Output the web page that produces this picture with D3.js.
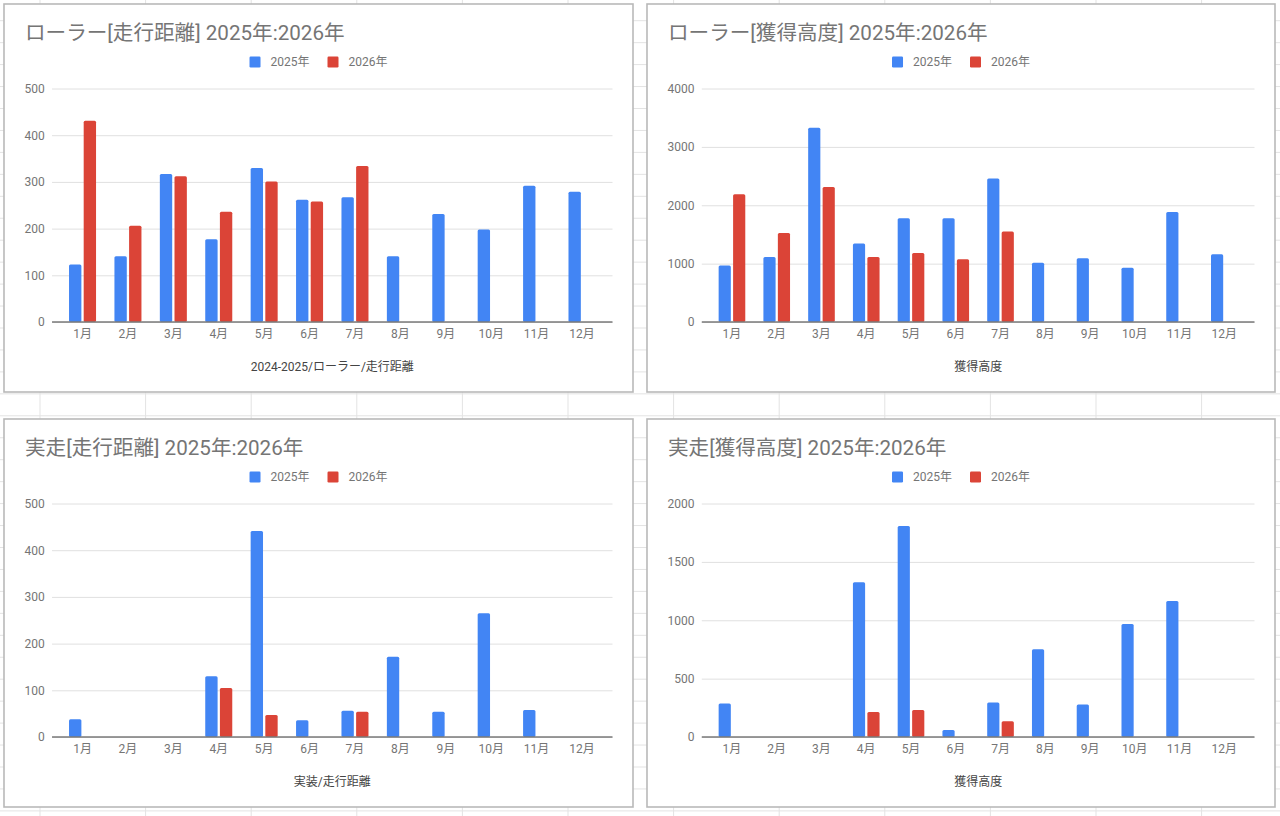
<!DOCTYPE html>
<html>
<head>
<meta charset="utf-8">
<script src="https://cdn.jsdelivr.net/npm/d3@7"></script>
<style>
  html, body { margin: 0; padding: 0; background: #ffffff; }
  svg { display: block; }
  text { font-family: Roboto, "Noto Sans CJK JP", sans-serif; }
</style>
</head>
<body>
<svg id="chart" width="1280" height="816"></svg>
<script>
// ---------- data ----------
const months = ["1月","2月","3月","4月","5月","6月","7月","8月","9月","10月","11月","12月"];
const seriesNames = ["2025年","2026年"];

const rollerDistance2025 = [123,141,317,177,330,262,267,141,231,198,292,279];
const rollerDistance2026 = [431,206,312,236,301,258,334,null,null,null,null,null];

const rollerElevation2025 = [966,1114,3326,1343,1777,1777,2457,1017,1091,931,1886,1160];
const rollerElevation2026 = [2189,1526,2314,1114,1183,1074,1549,null,null,null,null,null];

const runDistance2025 = [38,null,null,130,441,36,56,172,54,265,58,null];
const runDistance2026 = [null,null,null,105,47,null,54,null,null,null,null,null];

const runElevation2025 = [286,null,null,1325,1808,60,295,752,278,967,1164,null];
const runElevation2026 = [null,null,null,215,232,null,134,null,null,null,null,null];

const distanceTicks = [0,100,200,300,400,500];
const rollerElevationTicks = [0,1000,2000,3000,4000];
const runElevationTicks = [0,500,1000,1500,2000];

const chartTitles = [
  "ローラー[走行距離] 2025年:2026年",
  "ローラー[獲得高度] 2025年:2026年",
  "実走[走行距離] 2025年:2026年",
  "実走[獲得高度] 2025年:2026年"
];
const axisTitles = [
  "2024-2025/ローラー/走行距離",
  "獲得高度",
  "実装/走行距離",
  "獲得高度"
];

// ---------- styles / layout ----------
const colors = ["#4285f4", "#db4437"];
const svg = d3.select("#chart");

// spreadsheet background grid
const bg = svg.append("g");
for (let x = 40; x < 1280; x += 105.6) {
  bg.append("line").attr("x1", x).attr("x2", x).attr("y1", 0).attr("y2", 816)
    .attr("stroke", "#e3e3e3").attr("stroke-width", 1);
}
for (let y = 20.7; y < 816; y += 21.95) {
  bg.append("line").attr("x1", 0).attr("x2", 1280).attr("y1", y).attr("y2", y)
    .attr("stroke", "#e3e3e3").attr("stroke-width", 1);
}

const panels = [
  { x: 4,   y: 4,   w: 629, h: 388, s25: rollerDistance2025,  s26: rollerDistance2026,  ticks: distanceTicks },
  { x: 647, y: 4,   w: 628, h: 388, s25: rollerElevation2025, s26: rollerElevation2026, ticks: rollerElevationTicks },
  { x: 4,   y: 419, w: 629, h: 388, s25: runDistance2025,     s26: runDistance2026,     ticks: distanceTicks },
  { x: 647, y: 419, w: 628, h: 388, s25: runElevation2025,    s26: runElevation2026,    ticks: runElevationTicks }
];

panels.forEach((p, idx) => {
  const g = svg.append("g");
  g.append("rect").attr("x", p.x).attr("y", p.y).attr("width", p.w).attr("height", p.h)
    .attr("fill", "#ffffff").attr("stroke", "#b9b9b9").attr("stroke-width", 1.6);

  // title
  g.append("text").attr("x", p.x + 21).attr("y", p.y + 28.7)
    .attr("dominant-baseline", "central")
    .attr("font-size", 20.6).attr("fill", "#757575")
    .text(chartTitles[idx]);

  // measure y tick labels
  const tmp = g.append("g");
  let maxW = 0;
  p.ticks.forEach(t => {
    const tt = tmp.append("text").attr("font-size", 12).text(t);
    maxW = Math.max(maxW, tt.node().getComputedTextLength());
  });
  tmp.remove();

  const plotL = p.x + 20.5 + maxW + 7.3;
  const plotR = p.x + p.w - 20.5;
  const plotT = p.y + 84.5;
  const plotB = p.y + 318;

  const y = d3.scaleLinear().domain([0, d3.max(p.ticks)]).range([plotB, plotT]);
  const x0 = d3.scaleBand().domain(months).range([plotL + 7.8, plotR - 7.8])
    .paddingInner(0.405).paddingOuter(0.2025);
  const x1 = d3.scaleBand().domain(seriesNames).range([0, x0.bandwidth()])
    .paddingInner(0.157).paddingOuter(0);

  // gridlines + y labels via axis
  const yAxis = d3.axisLeft(y).tickValues(p.ticks).tickSize(-(plotR - plotL)).tickPadding(7.3)
    .tickFormat(d3.format("d"));
  const ya = g.append("g").attr("transform", `translate(${plotL},0)`).call(yAxis);
  ya.select(".domain").remove();
  ya.selectAll(".tick line").attr("stroke", "#e0e0e0").attr("stroke-width", 1);
  ya.selectAll(".tick text").attr("font-size", 12).attr("fill", "#757575")
    .attr("font-family", 'Roboto, "Noto Sans CJK JP", sans-serif');

  // bars
  const series = [p.s25, p.s26];
  const barsG = g.append("g");
  months.forEach((m, i) => {
    series.forEach((s, si) => {
      const v = s[i];
      if (v === null || v === undefined) return;
      barsG.append("rect")
        .attr("x", x0(m) + x1(seriesNames[si]))
        .attr("y", y(v))
        .attr("width", x1.bandwidth())
        .attr("height", y(0) - y(v))
        .attr("rx", 1.5)
        .attr("fill", colors[si]);
    });
  });

  // baseline
  g.append("line").attr("x1", plotL).attr("x2", plotR).attr("y1", y(0)).attr("y2", y(0))
    .attr("stroke", "#7a7a7a").attr("stroke-width", 1.3);

  // x axis labels
  const xAxis = d3.axisBottom(x0).tickSize(0).tickPadding(0);
  const xa = g.append("g").attr("transform", `translate(0,${p.y + 330})`).call(xAxis);
  xa.select(".domain").remove();
  xa.selectAll(".tick text").attr("dy", null).attr("y", 0)
    .attr("dominant-baseline", "central")
    .attr("font-size", 12).attr("fill", "#757575")
    .attr("font-family", 'Roboto, "Noto Sans CJK JP", sans-serif');

  // axis title
  g.append("text").attr("x", (plotL + plotR) / 2).attr("y", p.y + 363)
    .attr("text-anchor", "middle").attr("dominant-baseline", "central")
    .attr("font-size", 12).attr("fill", "#444444")
    .text(axisTitles[idx]);

  // legend (centered in panel)
  const lg = g.append("g");
  let cx = 0;
  seriesNames.forEach((name, si) => {
    const it = lg.append("g");
    it.append("rect").attr("x", 0).attr("y", -5.5).attr("width", 11).attr("height", 11)
      .attr("rx", 1.2).attr("fill", colors[si]);
    const t = it.append("text").attr("x", 21).attr("y", 0).attr("dominant-baseline", "central")
      .attr("font-size", 12).attr("fill", "#757575").text(name);
    const w = 21 + t.node().getComputedTextLength();
    it.attr("transform", `translate(${cx},0)`);
    cx += w + 18;
  });
  const totalW = cx - 18;
  lg.attr("transform", `translate(${p.x + p.w / 2 - totalW / 2},${p.y + 58})`);
});
</script>
</body>
</html>
